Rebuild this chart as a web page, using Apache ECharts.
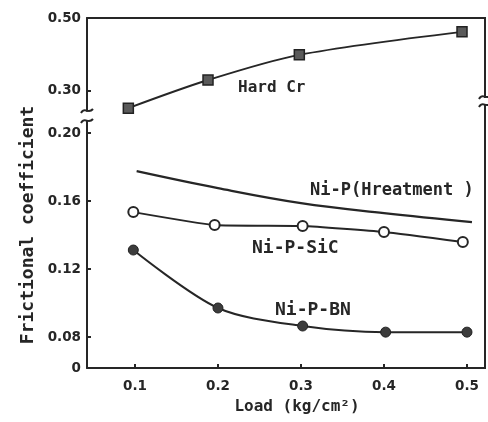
<!DOCTYPE html>
<html>
<head>
<meta charset="utf-8">
<script src="https://cdn.jsdelivr.net/npm/echarts@6/dist/echarts.min.js"></script>
<style>html,body{margin:0;padding:0;background:#fff;}#c{width:488px;height:422px;}</style>
</head>
<body>
<div id="c"></div>
<script>
// ---- data ----
const xTicks = [0.1, 0.2, 0.3, 0.4, 0.5];
const xTickLabels = ['0.1', '0.2', '0.3', '0.4', '0.5'];
const topTicks = [0.30, 0.50];
const topTickLabels = ['0.30', '0.50'];
// lower panel: the bottom tick "0" sits after an axis break, at the panel's floor
const lowTicks = [0.0618, 0.08, 0.12, 0.16, 0.20];
const lowTickLabels = ['0', '0.08', '0.12', '0.16', '0.20'];

const hardCrX = [0.092, 0.188, 0.298, 0.494];
const hardCrY = [0.253, 0.330, 0.399, 0.462];
const nipX = [0.102, 0.2, 0.3, 0.4, 0.506];
const nipY = [0.1776, 0.1676, 0.1588, 0.1529, 0.1476];
const sicX = [0.098, 0.196, 0.302, 0.4, 0.495];
const sicY = [0.1535, 0.1459, 0.1453, 0.1418, 0.1359];
const bnX = [0.098, 0.2, 0.302, 0.402, 0.5];
const bnY = [0.1312, 0.0971, 0.0865, 0.0829, 0.0829];

const seriesNames = ['Hard Cr', 'Ni-P(Hreatment )', 'Ni-P-SiC', 'Ni-P-BN'];
const xName = 'Load (kg/cm²)';
const yName = 'Frictional coefficient';

// ---- helpers ----
const zip = (a, b) => a.map((v, i) => [v, b[i]]);
const lab = (ticks, labels) => v => {
  for (let i = 0; i < ticks.length; i++) if (Math.abs(ticks[i] - v) < 1e-6) return labels[i];
  return '';
};
const INK = '#262626';
const tickFont = {fontFamily: 'DejaVu Sans', fontWeight: 'bold', fontSize: 13.5, color: INK};
const annFont = {fontFamily: 'DejaVu Sans Mono', fontWeight: 'bold', fontSize: 17, fill: INK};

const chart = echarts.init(document.getElementById('c'), null, {renderer: 'canvas'});

const xCommon = {type: 'value', min: 0.0422, max: 0.5217, splitLine: {show: false}};
chart.setOption({
  backgroundColor: '#fff',
  animation: false,
  grid: [
    {left: 87, right: 3, top: 18, height: 93},
    {left: 87, right: 3, top: 121, bottom: 54}
  ],
  xAxis: [
    Object.assign({}, xCommon, {gridIndex: 0, position: 'top',
      axisLine: {show: true, onZero: false, lineStyle: {color: INK, width: 2}},
      axisTick: {show: false}, axisLabel: {show: false}}),
    Object.assign({}, xCommon, {gridIndex: 1, position: 'bottom',
      axisLine: {show: true, onZero: false, lineStyle: {color: INK, width: 2}},
      axisTick: {show: true, inside: true, length: 4, customValues: xTicks, lineStyle: {color: INK, width: 2}},
      axisLabel: Object.assign({customValues: xTicks, margin: 11, formatter: lab(xTicks, xTickLabels)}, tickFont)})
  ],
  yAxis: [
    {type: 'value', gridIndex: 0, min: 0.2452, max: 0.50, splitLine: {show: false},
      axisLine: {show: true, onZero: false, lineStyle: {color: INK, width: 2}},
      axisTick: {show: true, inside: true, length: 4, customValues: topTicks, lineStyle: {color: INK, width: 2}},
      axisLabel: Object.assign({customValues: topTicks, margin: 6, showMaxLabel: true, formatter: lab(topTicks, topTickLabels)}, tickFont)},
    {type: 'value', gridIndex: 1, min: 0.0618, max: 0.2071, splitLine: {show: false},
      axisLine: {show: true, onZero: false, lineStyle: {color: INK, width: 2}},
      axisTick: {show: true, inside: true, length: 4, customValues: lowTicks.slice(1), lineStyle: {color: INK, width: 2}},
      axisLabel: Object.assign({customValues: lowTicks, margin: 6, showMinLabel: true, formatter: lab(lowTicks, lowTickLabels)}, tickFont)}
  ],
  series: [
    {name: seriesNames[0], type: 'line', xAxisIndex: 0, yAxisIndex: 0, data: zip(hardCrX, hardCrY),
      smooth: 0.3, symbol: 'rect', symbolSize: 10,
      lineStyle: {color: INK, width: 2}, itemStyle: {color: '#5a5a5a', borderColor: '#222', borderWidth: 1.5}},
    {name: seriesNames[1], type: 'line', xAxisIndex: 1, yAxisIndex: 1, data: zip(nipX, nipY),
      smooth: 0.4, showSymbol: false, symbol: 'none',
      lineStyle: {color: INK, width: 2.2}},
    {name: seriesNames[2], type: 'line', xAxisIndex: 1, yAxisIndex: 1, data: zip(sicX, sicY),
      smooth: 0.15, symbol: 'circle', symbolSize: 10,
      lineStyle: {color: INK, width: 2}, itemStyle: {color: '#fff', borderColor: INK, borderWidth: 2}},
    {name: seriesNames[3], type: 'line', xAxisIndex: 1, yAxisIndex: 1, data: zip(bnX, bnY),
      smooth: 0.3, symbol: 'circle', symbolSize: 10,
      lineStyle: {color: INK, width: 2}, itemStyle: {color: '#3c3c3c', borderColor: '#222', borderWidth: 1}}
  ]
});

// ---- decorations: right frame with break, break marks, annotations, axis names ----
const brk = (x, y) => ({type: 'bezierCurve', silent: true,
  shape: {x1: x - 6, y1: y + 2, cpx1: x - 2, cpy1: y - 5, cpx2: x + 1, cpy2: y + 4, x2: x + 6, y2: y - 2},
  style: {stroke: INK, lineWidth: 2, fill: null}});
const ln = (x1, y1, x2, y2) => ({type: 'line', silent: true, shape: {x1, y1, x2, y2}, style: {stroke: INK, lineWidth: 2}});
const txt = (t, x, y, extra) => ({type: 'text', silent: true, x, y,
  style: Object.assign({text: t, textAlign: 'left', textVerticalAlign: 'middle'}, annFont, extra || {})});

chart.setOption({
  graphic: [
    ln(485, 17, 485, 98), ln(485, 104, 485, 369),
    brk(87, 111), brk(87, 121), brk(485, 97), brk(485, 105),
    txt(seriesNames[0], 238, 88, {fontSize: 16}),
    txt(seriesNames[1], 310, 191, {fontSize: 17}),
    txt(seriesNames[2], 252, 248, {fontSize: 18}),
    txt(seriesNames[3], 275, 310, {fontSize: 18}),
    txt(xName, 297, 407, {textAlign: 'center', fontSize: 16}),
    {type: 'text', silent: true, x: 28, y: 225, rotation: Math.PI / 2,
      style: Object.assign({text: yName, textAlign: 'center', textVerticalAlign: 'middle'}, annFont, {fontSize: 18})}
  ]
});
</script>
</body>
</html>
